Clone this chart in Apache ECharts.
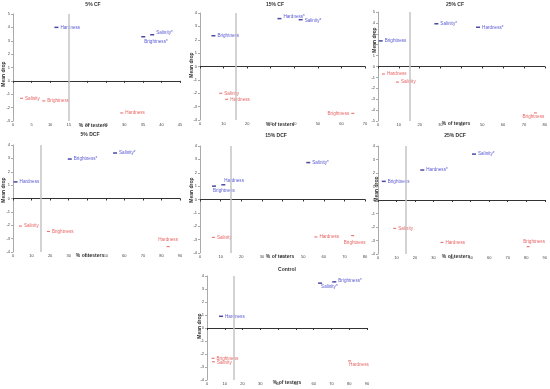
<!DOCTYPE html>
<html><head><meta charset="utf-8">
<script src="https://cdn.jsdelivr.net/npm/echarts@6/dist/echarts.min.js"></script>
<style>html,body{margin:0;padding:0;background:#fff}#c{width:550px;height:389px}</style>
</head><body><div id="c"></div>
<script>
// ---- Data ----
const titles = ['5% CF','15% CF','25% CF','5% DCF','15% DCF','25% DCF','Control'];
const xTitle = '% of testers';
const yTitle = 'Mean drop';
const xMax = [45,70,80,90,80,90,90];
const xStep = [5,10,10,10,10,10,10];
const yMin = [-3,-4,-5,-4,-4,-4,-4];
const yMax = [5,4,5,4,4,4,4];
const cutoff = 15;

// 5% CF
const cf5BlueNames = ['Hardness','Salinity*','Brightness*'];
const cf5BlueX = [11.7,37.5,35.1];
const cf5BlueY = [4.0,3.45,3.3];
const cf5RedNames = ['Salinity','Brightness','Hardness'];
const cf5RedX = [2.3,8.3,29.3];
const cf5RedY = [-1.3,-1.5,-2.4];
// 15% CF
const cf15BlueNames = ['Hardness*','Salinity*','Brightness'];
const cf15BlueX = [33.7,42.7,5.7];
const cf15BlueY = [3.58,3.5,2.3];
const cf15RedNames = ['Salinity','Hardness','Brightness'];
const cf15RedX = [8.8,11.3,64.8];
const cf15RedY = [-2.0,-2.45,-3.5];
// 25% CF
const cf25BlueNames = ['Salinity*','Hardness*','Brightness'];
const cf25BlueX = [28,48,1.3];
const cf25BlueY = [3.92,3.6,2.35];
const cf25RedNames = ['Hardness','Salinity','Brightness'];
const cf25RedX = [2.6,9.3,75.5];
const cf25RedY = [-0.69,-1.43,-4.26];
// 5% DCF
const dcf5BlueNames = ['Salinity*','Brightness*','Hardness'];
const dcf5BlueX = [55,30.6,1.4];
const dcf5BlueY = [3.4,2.95,1.24];
const dcf5RedNames = ['Salinity','Brightness','Hardness'];
const dcf5RedX = [4.0,19.1,83.6];
const dcf5RedY = [-2.06,-2.46,-3.6];
// 15% DCF
const dcf15BlueNames = ['Salinity*','Hardness','Brightness'];
const dcf15BlueX = [52.5,11.3,6.8];
const dcf15BlueY = [2.76,1.1,1.0];
const dcf15RedNames = ['Salinity','Hardness','Brightness'];
const dcf15RedX = [6.5,56.2,74];
const dcf15RedY = [-2.83,-2.8,-2.7];
// 25% DCF
const dcf25BlueNames = ['Salinity*','Hardness*','Brightness'];
const dcf25BlueX = [51.8,23.9,3.1];
const dcf25BlueY = [3.4,2.22,1.38];
const dcf25RedNames = ['Salinity','Hardness','Brightness'];
const dcf25RedX = [9,34.5,81];
const dcf25RedY = [-2.1,-3.14,-3.46];
// Control
const ctlBlueNames = ['Salinity*','Brightness*','Hardness'];
const ctlBlueX = [63.6,71.6,7.9];
const ctlBlueY = [3.45,3.55,0.9];
const ctlRedNames = ['Brightness','Salinity','Hardness'];
const ctlRedX = [3.4,3.6,80.2];
const ctlRedY = [-2.33,-2.6,-2.53];

const blueSets = [
  [cf5BlueNames,cf5BlueX,cf5BlueY],[cf15BlueNames,cf15BlueX,cf15BlueY],[cf25BlueNames,cf25BlueX,cf25BlueY],
  [dcf5BlueNames,dcf5BlueX,dcf5BlueY],[dcf15BlueNames,dcf15BlueX,dcf15BlueY],[dcf25BlueNames,dcf25BlueX,dcf25BlueY],
  [ctlBlueNames,ctlBlueX,ctlBlueY]];
const redSets = [
  [cf5RedNames,cf5RedX,cf5RedY],[cf15RedNames,cf15RedX,cf15RedY],[cf25RedNames,cf25RedX,cf25RedY],
  [dcf5RedNames,dcf5RedX,dcf5RedY],[dcf15RedNames,dcf15RedX,dcf15RedY],[dcf25RedNames,dcf25RedX,dcf25RedY],
  [ctlRedNames,ctlRedX,ctlRedY]];

// ---- Layout / style ----
const grids = [
  {left:13,top:14,width:167,height:107},
  {left:200,top:13,width:165,height:107},
  {left:378,top:12,width:167,height:109},
  {left:13,top:145,width:167,height:107},
  {left:200,top:146,width:165,height:107},
  {left:378,top:146,width:167,height:108},
  {left:207,top:276,width:160,height:104}
];
const titlePos = [[93,5],[275,5],[455,5],[90,135],[276,136],[455,136],[287,270]];
const xTitlePos = [[93,126],[280,125],[456,124],[90,256],[280,257],[456,257],[287,383]];
const yTitlePos = [[4,74],[192,65],[375,40],[4,190],[192,190],[377,189],[200,326]];
// label placement overrides: key "panel-color-index" -> {position, offset}
const labelOv = {
  '0-b-1':{position:'right',offset:[0,-2]},
  '0-b-2':{position:'right',offset:[-3,5]},
  '1-b-0':{position:'right',offset:[0,-2]},
  '1-b-1':{position:'right',offset:[0,1]},
  '1-r-2':{position:'left',offset:[0,0]},
  '2-r-2':{position:'bottom',offset:[-2,-1]},
  '3-r-2':{position:'top',offset:[0,-2]},
  '4-b-1':{position:'right',offset:[-3,-4]},
  '4-b-2':{position:'right',offset:[-5,5]},
  '4-r-2':{position:'bottom',offset:[2,2]},
  '5-r-2':{position:'top',offset:[6,0]},
  '6-b-0':{position:'right',offset:[-3,4]},
  '6-b-1':{position:'right',offset:[0,-1]},
  '6-r-1':{position:'right',offset:[0,1]},
  '6-r-2':{position:'right',offset:[-4,4]}
};
const BLUE = '#2e2ec8', BLUE_M = '#1c1c8c', RED = '#e23b3b';
const FONT = '"Liberation Sans Narrow","Liberation Sans",sans-serif';

const xAxes = [], yAxes = [], series = [], graphic = [];
grids.forEach((g,i)=>{
  xAxes.push({type:'value',gridIndex:i,min:0,max:xMax[i],interval:xStep[i],
    axisLine:{onZero:true,lineStyle:{color:'#333',width:1}},
    axisTick:{show:true,length:2,lineStyle:{color:'#333'}},
    axisLabel:{fontSize:4,color:'#444',margin:2,fontFamily:FONT},
    splitLine:{show:false}});
  yAxes.push({type:'value',gridIndex:i,min:yMin[i],max:yMax[i],interval:1,
    axisLine:{show:true,onZero:false,lineStyle:{color:'#aaa',width:1}},
    axisTick:{show:true,length:2,lineStyle:{color:'#aaa'}},
    axisLabel:{fontSize:4,color:'#444',margin:3,fontFamily:FONT},
    splitLine:{show:false}});
  const mk = (set,col,tag)=>{
    const [names,xs,ys] = set;
    return names.map((n,k)=>{
      const ov = labelOv[i+'-'+tag+'-'+k] || {position:'right',offset:[0,0]};
      return {name:n,value:[xs[k],ys[k]],
        label:{show:true,formatter:n,position:ov.position,offset:ov.offset,distance:2,
          color:col,fontSize:4.6,fontFamily:FONT}};
    });
  };
  series.push({type:'scatter',xAxisIndex:i,yAxisIndex:i,symbol:'rect',symbolSize:[4,1.5],
    itemStyle:{color:BLUE_M},data:mk(blueSets[i],BLUE,'b'),
    markLine:{silent:true,symbol:'none',label:{show:false},
      lineStyle:{color:'#c4c4c4',width:1.5,type:'solid'},data:[{xAxis:cutoff}]}});
  series.push({type:'scatter',xAxisIndex:i,yAxisIndex:i,symbol:'rect',symbolSize:[3,1],
    itemStyle:{color:RED},data:mk(redSets[i],RED,'r')});
  graphic.push({type:'text',x:titlePos[i][0],y:titlePos[i][1],
    style:{text:titles[i],fontSize:5,fontWeight:'bold',fill:'#333',fontFamily:FONT,align:'center',verticalAlign:'middle'}});
  graphic.push({type:'text',x:xTitlePos[i][0],y:xTitlePos[i][1],
    style:{text:xTitle,fontSize:5,fontWeight:'bold',fill:'#333',fontFamily:FONT,align:'center',verticalAlign:'middle'}});
  graphic.push({type:'text',x:yTitlePos[i][0],y:yTitlePos[i][1],rotation:Math.PI/2,
    style:{text:yTitle,fontSize:5,fontWeight:'bold',fill:'#333',fontFamily:FONT,align:'center',verticalAlign:'middle'}});
});

const chart = echarts.init(document.getElementById('c'),null,{renderer:'canvas'});
chart.setOption({animation:false,grid:grids,xAxis:xAxes,yAxis:yAxes,series:series,graphic:graphic});
</script></body></html>
